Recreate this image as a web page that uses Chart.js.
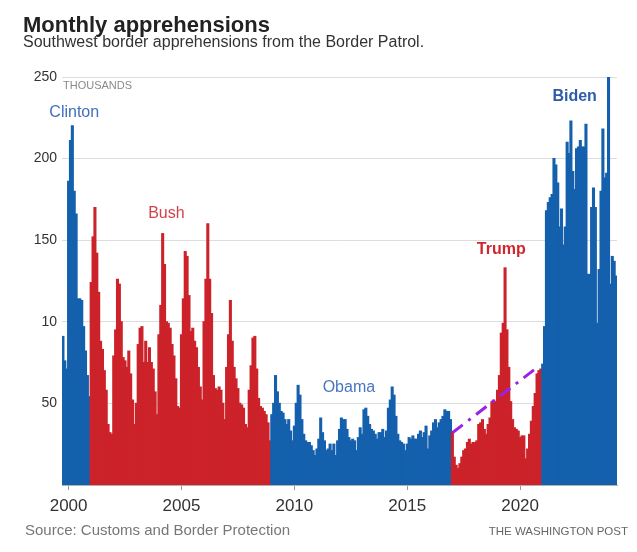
<!DOCTYPE html>
<html>
<head>
<meta charset="utf-8">
<title>Monthly apprehensions</title>
<script src="https://cdn.jsdelivr.net/npm/chart.js@4.4.1/dist/chart.umd.min.js"></script>
<style>
  html, body { margin: 0; padding: 0; background: #fff; }
  body { width: 637px; height: 552px; position: relative; overflow: hidden; font-family: "Liberation Sans", Arial, sans-serif; }
  #title { position: absolute; left: 23px; top: 12px; font-size: 22px; font-weight: bold; color: #222; white-space: nowrap; }
  #subtitle { position: absolute; left: 23px; top: 33px; font-size: 16px; color: #333; white-space: nowrap; }
  #source { position: absolute; left: 25px; top: 521px; font-size: 15px; color: #777; white-space: nowrap; }
  #credit { position: absolute; right: 9px; top: 525px; font-size: 11.5px; color: #666; white-space: nowrap; }
  #chart { position: absolute; left: 0; top: 0; }
</style>
</head>
<body>
<canvas id="chart" width="637" height="552"></canvas>
<div id="title">Monthly apprehensions</div>
<div id="subtitle">Southwest border apprehensions from the Border Patrol.</div>
<div id="source">Source: Customs and Border Protection</div>
<div id="credit">THE WASHINGTON POST</div>
<script>
// Monthly Southwest border apprehensions (thousands), Oct 1999 - Apr 2024

const FIRST_MONTH = [1999, 10];

const clintonValues = [91, 76, 71, 186, 211, 220, 180, 166, 114, 114, 113, 97, 82, 67, 54];

const bushValues = [
  124, 152, 170, 142, 118, 88, 83, 70, 58, 37, 32, 31,
  79, 95, 126, 123, 100, 78, 76, 72, 82, 68, 52, 37,
  50, 86, 96, 97, 75, 88, 75, 84, 75, 71, 57, 43,
  92, 110, 154, 135, 100, 99, 96, 86, 79, 65, 48, 47,
  92, 114, 143, 140, 116, 94, 96, 88, 84, 72, 60, 52,
  100, 126, 160, 126, 105, 67, 59, 58, 60, 58, 50, 40,
  72, 92, 113, 88, 72, 65, 59, 50, 49, 47, 37, 35,
  58, 73, 90, 91, 71, 53, 48, 47, 45, 43, 38, 27
];

const obamaValues = [
  43, 50, 67, 57, 50, 45, 44, 40, 37, 40, 33, 27,
  36, 50, 61, 55, 40, 31, 27, 26, 26, 24, 21, 18,
  22, 28, 41, 32, 27, 21, 22, 25, 21, 25, 18, 27,
  34, 41, 40, 40, 34, 29, 27, 28, 27, 21, 29, 35,
  31, 46, 47, 42, 37, 34, 33, 31, 28, 32, 32, 34,
  29, 33, 47, 52, 60, 55, 42, 31, 27, 26, 25, 21,
  25, 29, 28, 30, 28, 28, 31, 33, 29, 32, 36, 22,
  30, 33, 38, 40, 35, 38, 40, 42, 46, 45, 45, 40
];

const trumpValues = [
  32, 17, 12, 10, 13, 17, 21, 22, 26, 28, 25, 26,
  26, 27, 37, 38, 40, 34, 31, 37, 41, 51, 52, 51,
  58, 67, 93, 99, 133, 95, 72, 51, 40, 35, 34, 33,
  29, 30, 30, 16, 22, 31, 39, 48, 56, 68, 70, 71
];

const bidenValues = [
  74, 97, 168, 173, 176, 178, 200, 196, 185, 158, 169, 147,
  158, 210, 203, 223, 192, 181, 206, 207, 211, 207, 207, 221,
  129, 129, 170, 182, 170, 99, 132, 180, 218, 188, 191, 250,
  123, 140, 137, 128
];

const yTickValues = [50, 100, 150, 200, 250];
const yTickLabels = ['50', '10', '150', '200', '250'];
const xTickMonths = ['2000-01', '2005-01', '2010-01', '2015-01', '2020-01'];

const trendMonths = ['2017-01', '2020-10'];
const trendValues = [32, 72];

const BLUE = '#1460ad';
const RED = '#cc2229';
const FONT = '"Liberation Sans", Arial, sans-serif';

const terms = [
  { values: clintonValues, color: BLUE },
  { values: bushValues, color: RED },
  { values: obamaValues, color: BLUE },
  { values: trumpValues, color: RED },
  { values: bidenValues, color: BLUE },
];

const termLabels = [
  { text: 'Clinton', month: '2000-04', value: 228, color: '#3f6fc1', bold: false },
  { text: 'Bush', month: '2004-05', value: 166, color: '#d24349', bold: false },
  { text: 'Obama', month: '2012-06', value: 59.6, color: '#4876c3', bold: false },
  { text: 'Trump', month: '2019-03', value: 144, color: '#d2262d', bold: true },
  { text: 'Biden', month: '2022-06', value: 237.7, color: '#2f5ca9', bold: true },
];

const values = [];
const barColors = [];
terms.forEach(t => {
  t.values.forEach(v => {
    values.push(v);
    barColors.push(t.color);
  });
});

const months = [];
let [yr, mo] = FIRST_MONTH;
for (let i = 0; i < values.length; i++) {
  months.push(`${yr}-${String(mo).padStart(2, '0')}`);
  mo++;
  if (mo > 12) { mo = 1; yr++; }
}

const trendPoints = trendMonths.map((m, i) => ({ x: m, y: trendValues[i] }));

const termLabelPlugin = {
  id: 'termLabels',
  afterDatasetsDraw(chart) {
    const { ctx, scales: { x, y }, chartArea } = chart;
    ctx.save();
    ctx.textAlign = 'center';
    ctx.textBaseline = 'middle';
    termLabels.forEach(l => {
      ctx.font = `${l.bold ? 'bold ' : ''}16px ${FONT}`;
      ctx.fillStyle = l.color;
      ctx.fillText(l.text, x.getPixelForValue(months.indexOf(l.month)), y.getPixelForValue(l.value));
    });
    ctx.font = `11px ${FONT}`;
    ctx.fillStyle = '#8a8a8a';
    ctx.textAlign = 'left';
    ctx.fillText('THOUSANDS', chartArea.left + 1, y.getPixelForValue(250) + 9);
    ctx.restore();
  }
};

Chart.defaults.font.family = FONT;

new Chart(document.getElementById('chart'), {
  type: 'bar',
  data: {
    labels: months,
    datasets: [
      {
        type: 'line',
        data: trendPoints,
        borderColor: '#9b20e8',
        borderWidth: 3,
        borderDash: [13, 7, 3, 7],
        pointRadius: 0,
        fill: false,
        order: 0,
      },
      {
        type: 'bar',
        data: values,
        backgroundColor: barColors,
        borderWidth: 0,
        barPercentage: 1,
        categoryPercentage: 1,
        inflateAmount: 0.6,
        order: 1,
      }
    ]
  },
  options: {
    responsive: false,
    animation: false,
    layout: { padding: { top: 77, right: 20, bottom: 27, left: 0 } },
    plugins: {
      legend: { display: false },
      tooltip: { enabled: false },
    },
    scales: {
      x: {
        afterBuildTicks: scale => {
          scale.ticks = scale.ticks.filter(t => xTickMonths.includes(months[t.value]));
        },
        afterFit: scale => { scale.height = 40; },
        border: { color: '#b0b0b0' },
        grid: { offset: false, drawOnChartArea: false, drawTicks: true, tickLength: 5, color: '#999' },
        ticks: {
          autoSkip: false,
          maxRotation: 0,
          padding: 6,
          color: '#333',
          font: { size: 17 },
          callback: v => months[v].slice(0, 4),
        }
      },
      y: {
        min: 0,
        max: 250,
        afterBuildTicks: scale => {
          scale.ticks = yTickValues.map(v => ({ value: v }));
        },
        afterFit: scale => { scale.width = 62; },
        border: { display: false },
        grid: { color: '#dddddd', drawTicks: false },
        ticks: {
          padding: 5,
          color: '#333',
          font: { size: 14 },
          callback: v => yTickLabels[yTickValues.indexOf(v)],
        }
      }
    }
  },
  plugins: [termLabelPlugin]
});
</script>
</body>
</html>
